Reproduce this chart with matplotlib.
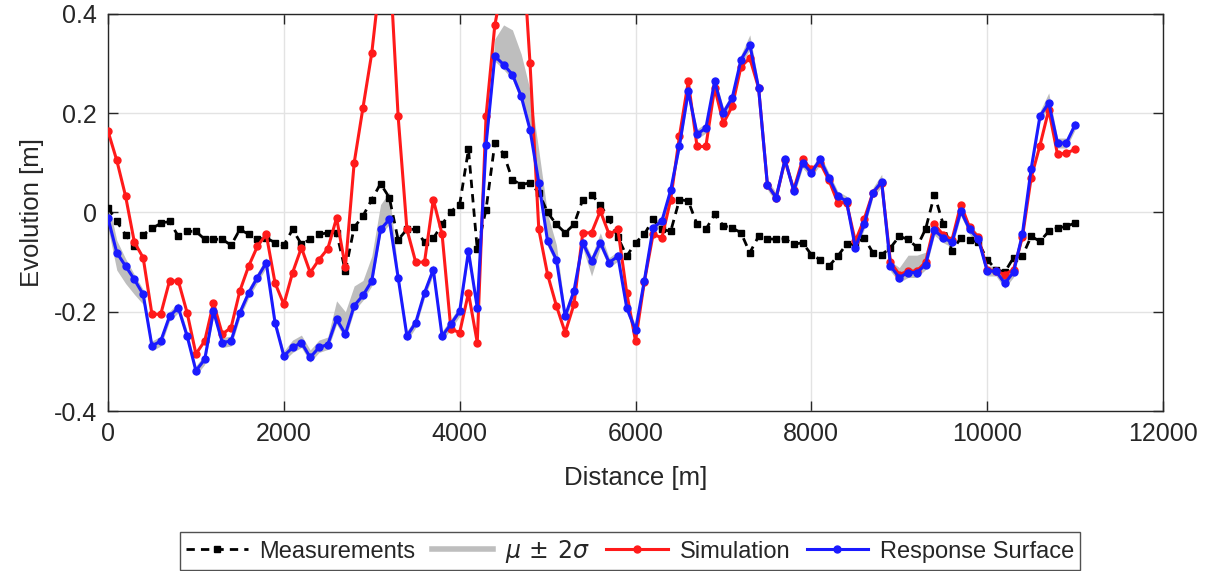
import numpy as np
import matplotlib
matplotlib.use("Agg")
import matplotlib.pyplot as plt
from matplotlib.lines import Line2D

plt.rcParams['font.family'] = ['Liberation Sans', 'DejaVu Sans']
plt.rcParams['mathtext.fontset'] = 'dejavusans'

# chainage every 100 m
distance = np.arange(0, 11001, 100)

measurements = [
    0.010, -0.018, -0.045, -0.068, -0.045, -0.032, -0.022, -0.018, -0.048, -0.038,
    -0.038, -0.054, -0.054, -0.054, -0.066, -0.034, -0.044, -0.054, -0.051, -0.061,
    -0.066, -0.034, -0.064, -0.054, -0.044, -0.041, -0.041, -0.118, -0.030, -0.007,
    0.026, 0.058, 0.030, -0.055, -0.034, -0.034, -0.060, -0.052, -0.024, 0.002,
    0.016, 0.127, -0.074, 0.006, 0.140, 0.118, 0.066, 0.056, 0.060, 0.040,
    0.000, -0.024, -0.041, -0.024, 0.026, 0.036, 0.016, -0.014, -0.050, -0.088,
    -0.061, -0.044, -0.014, -0.034, -0.038, 0.026, 0.023, -0.024, -0.034, -0.004,
    -0.027, -0.031, -0.041, -0.081, -0.048, -0.053, -0.054, -0.053, -0.064, -0.061,
    -0.085, -0.095, -0.108, -0.088, -0.064, -0.064, -0.051, -0.081, -0.085, -0.071,
    -0.048, -0.054, -0.070, -0.033, 0.036, -0.024, -0.078, -0.051, -0.055, -0.060,
    -0.095, -0.115, -0.120, -0.091, -0.088, -0.048, -0.058, -0.038, -0.031, -0.028,
    -0.021,
]

simulation = [
    0.164, 0.105, 0.033, -0.060, -0.091, -0.205, -0.205, -0.138, -0.138, -0.202,
    -0.285, -0.259, -0.182, -0.245, -0.232, -0.158, -0.108, -0.068, -0.044, -0.142,
    -0.185, -0.121, -0.071, -0.121, -0.095, -0.073, -0.011, -0.110, 0.100, 0.211,
    0.321, 0.480, 0.520, 0.194, -0.034, -0.100, -0.100, 0.026, -0.044, -0.235,
    -0.242, -0.162, -0.262, 0.194, 0.378, 0.470, 0.550, 0.580, 0.301, -0.034,
    -0.125, -0.188, -0.242, -0.185, -0.041, -0.041, 0.003, -0.044, -0.034, -0.162,
    -0.259, -0.140, -0.044, -0.051, 0.026, 0.154, 0.264, 0.133, 0.133, 0.251,
    0.180, 0.214, 0.294, 0.311, 0.251, 0.056, 0.030, 0.105, 0.046, 0.107,
    0.087, 0.100, 0.065, 0.020, 0.020, -0.058, -0.014, 0.040, 0.060, -0.100,
    -0.125, -0.118, -0.118, -0.100, -0.024, -0.045, -0.055, 0.016, -0.030, -0.050,
    -0.115, -0.118, -0.125, -0.115, -0.050, 0.070, 0.135, 0.207, 0.117, 0.120,
    0.127,
]

response_surface = [
    -0.011, -0.081, -0.108, -0.135, -0.165, -0.269, -0.259, -0.209, -0.192, -0.249,
    -0.319, -0.296, -0.199, -0.262, -0.259, -0.202, -0.162, -0.131, -0.101, -0.222,
    -0.289, -0.272, -0.262, -0.292, -0.272, -0.266, -0.215, -0.245, -0.188, -0.167,
    -0.138, -0.034, -0.014, -0.131, -0.249, -0.222, -0.162, -0.115, -0.249, -0.225,
    -0.199, -0.078, -0.192, 0.137, 0.315, 0.298, 0.278, 0.234, 0.167, 0.060,
    -0.058, -0.095, -0.209, -0.158, -0.061, -0.098, -0.061, -0.101, -0.088, -0.192,
    -0.237, -0.138, -0.031, -0.017, 0.045, 0.135, 0.244, 0.158, 0.170, 0.264,
    0.201, 0.231, 0.308, 0.338, 0.251, 0.056, 0.030, 0.107, 0.043, 0.100,
    0.080, 0.107, 0.070, 0.033, 0.023, -0.071, -0.024, 0.040, 0.062, -0.108,
    -0.131, -0.121, -0.121, -0.105, -0.036, -0.051, -0.060, 0.003, -0.034, -0.054,
    -0.118, -0.118, -0.143, -0.120, -0.044, 0.088, 0.194, 0.221, 0.140, 0.140,
    0.177,
]

# extent of the mu +/- 2 sigma band above / below the response surface
band_up = [
    0.035, 0.025, 0.015, 0.010, 0.010, 0.010, 0.010, 0.010, 0.010, 0.010,
    0.010, 0.010, 0.010, 0.010, 0.010, 0.010, 0.010, 0.010, 0.010, 0.010,
    0.010, 0.015, 0.015, 0.015, 0.015, 0.015, 0.037, 0.045, 0.040, 0.030,
    0.050, 0.050, 0.055, 0.010, 0.010, 0.010, 0.010, 0.010, 0.010, 0.010,
    0.010, 0.010, 0.010, 0.010, 0.035, 0.080, 0.090, 0.085, 0.080, 0.065,
    0.055, 0.030, 0.010, 0.010, 0.010, 0.010, 0.020, 0.010, 0.010, 0.010,
    0.010, 0.010, 0.010, 0.010, 0.010, 0.010, 0.010, 0.010, 0.010, 0.010,
    0.010, 0.010, 0.010, 0.020, 0.010, 0.010, 0.010, 0.010, 0.010, 0.010,
    0.010, 0.010, 0.010, 0.010, 0.010, 0.010, 0.010, 0.010, 0.015, 0.010,
    0.020, 0.035, 0.035, 0.025, 0.010, 0.010, 0.010, 0.010, 0.010, 0.010,
    0.010, 0.010, 0.010, 0.010, 0.010, 0.010, 0.010, 0.020, 0.010, 0.010,
    0.010,
]
band_dn = [
    0.020, 0.035, 0.035, 0.030, 0.020, 0.010, 0.010, 0.010, 0.010, 0.010,
    0.010, 0.010, 0.010, 0.010, 0.010, 0.010, 0.010, 0.010, 0.010, 0.010,
    0.010, 0.010, 0.010, 0.010, 0.010, 0.010, 0.010, 0.010, 0.010, 0.010,
    0.010, 0.010, 0.010, 0.010, 0.010, 0.010, 0.010, 0.010, 0.010, 0.010,
    0.010, 0.010, 0.010, 0.010, 0.010, 0.010, 0.010, 0.010, 0.010, 0.010,
    0.010, 0.010, 0.010, 0.010, 0.010, 0.030, 0.010, 0.010, 0.010, 0.010,
    0.010, 0.010, 0.010, 0.010, 0.010, 0.010, 0.010, 0.010, 0.010, 0.010,
    0.010, 0.010, 0.010, 0.010, 0.010, 0.010, 0.010, 0.010, 0.010, 0.010,
    0.010, 0.010, 0.010, 0.010, 0.010, 0.010, 0.010, 0.010, 0.010, 0.010,
    0.010, 0.010, 0.010, 0.010, 0.010, 0.010, 0.010, 0.010, 0.010, 0.010,
    0.010, 0.010, 0.010, 0.010, 0.010, 0.010, 0.010, 0.010, 0.010, 0.010,
    0.010,
]

xticks = [0, 2000, 4000, 6000, 8000, 10000, 12000]
yticks = [-0.4, -0.2, 0, 0.2, 0.4]
ytick_labels = ["-0.4", "-0.2", "0", "0.2", "0.4"]

rs = np.array(response_surface)
band_lo = rs - np.array(band_dn)
band_hi = rs + np.array(band_up)

fig = plt.figure(figsize=(12.12, 5.71), dpi=100)
ax = fig.add_axes([0.0891, 0.2802, 0.8705, 0.6953])

gray = "#bebebe"
ax.fill_between(distance, band_lo, band_hi, color=gray, lw=0, zorder=2)
ax.plot(distance, measurements, color="black", linestyle=(0, (3, 2.2)), lw=2.0,
        marker="s", markersize=4.5, zorder=3)
ax.plot(distance, simulation, color="#ff1a1a", lw=2.2, marker="o",
        markersize=5, zorder=4)
ax.plot(distance, response_surface, color="#1a1aff", lw=2.2, marker="o",
        markersize=5, zorder=5)

ax.set_xlim(0, 12000)
ax.set_ylim(-0.4, 0.4)
ax.set_xticks(xticks)
ax.set_xticklabels([str(t) for t in xticks])
ax.set_yticks(yticks)
ax.set_yticklabels(ytick_labels)
ax.grid(True, color="#e3e3e3", lw=1.0, zorder=0)
ax.set_axisbelow(True)

ax.tick_params(direction="in", length=7, width=1, top=True, right=True,
               labelsize=18, colors="#262626", pad=8)
for sp in ax.spines.values():
    sp.set_color("#262626")
    sp.set_linewidth(1.0)

ax.set_xlabel("Distance [m]", fontsize=18.5, color="#262626")
ax.set_ylabel("Evolution [m]", fontsize=18.5, color="#262626")
ax.xaxis.set_label_coords(0.5, -0.138)
ax.yaxis.set_label_coords(-0.061, 0.5)

handles = [
    Line2D([], [], color="black", linestyle=(0, (3, 2.2)), lw=2.0, marker="s", markersize=4.5),
    Line2D([], [], color=gray, lw=4),
    Line2D([], [], color="#ff1a1a", lw=2.2, marker="o", markersize=5),
    Line2D([], [], color="#1a1aff", lw=2.2, marker="o", markersize=5),
]
labels = ["Measurements", r"$\mu\,\pm\,2\sigma$", "Simulation", "Response Surface"]
leg = fig.legend(handles, labels, loc="center", bbox_to_anchor=(0.52, 0.035),
                 ncol=4, fontsize=17, frameon=True, fancybox=False,
                 handlelength=2.6, handletextpad=0.5, columnspacing=0.7,
                 borderpad=0.25, edgecolor="#262626")
leg.get_frame().set_linewidth(1.0)
for t in leg.get_texts():
    t.set_color("#262626")

fig.savefig("out.png", dpi=100)
